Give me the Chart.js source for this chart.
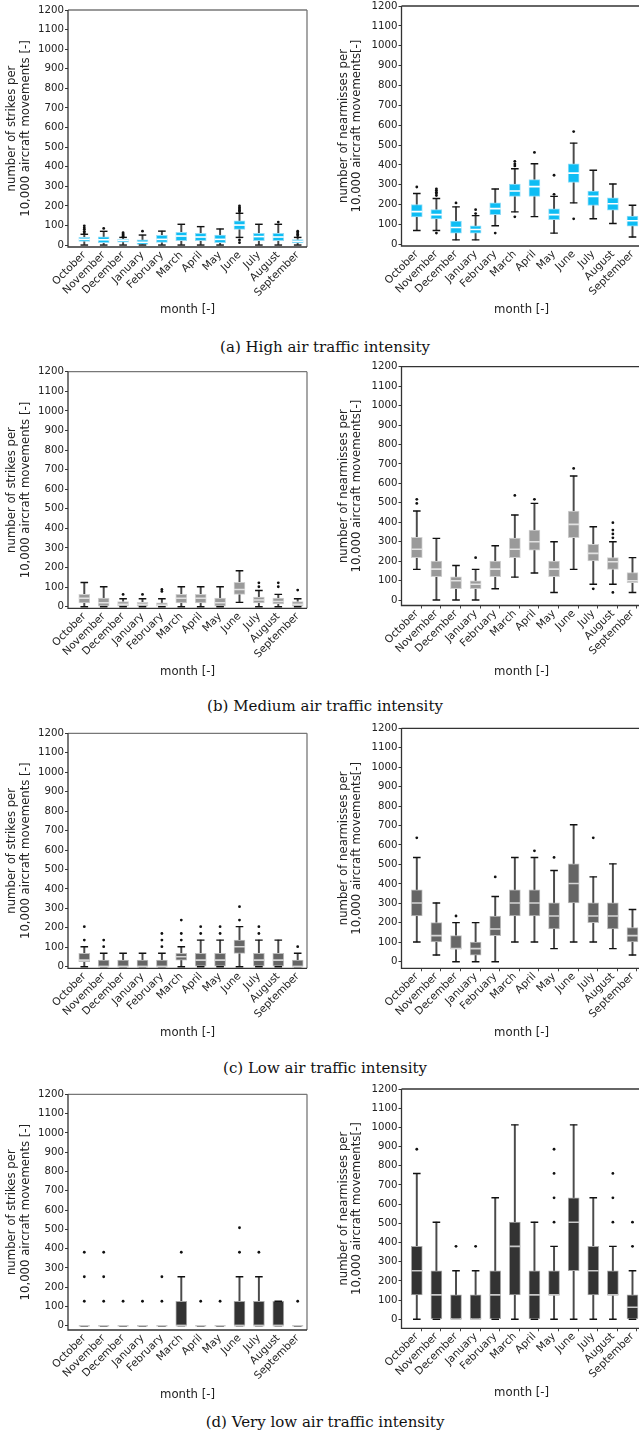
<!DOCTYPE html>
<html>
<head>
<meta charset="utf-8">
<script src="https://cdn.jsdelivr.net/npm/chart.js@4/dist/chart.umd.min.js"></script>
<style>
  html, body { margin: 0; padding: 0; background: #fff; overflow: hidden; }
  #page { position: relative; width: 639px; height: 1440px; overflow: hidden; background: #fff; }
  #page canvas { position: absolute; }
  .caption { position: absolute; left: 0; width: 650px; height: 20px; line-height: 20px; text-align: center;
             font-family: "DejaVu Serif", "Liberation Serif", serif; font-size: 15px; color: #111; }
</style>
</head>
<body>
<div id="page">
  <div class="caption" style="top:337px">(a) High air traffic intensity</div>
  <div class="caption" style="top:696px">(b) Medium air traffic intensity</div>
  <div class="caption" style="top:1058px">(c) Low air traffic intensity</div>
  <div class="caption" style="top:1412px">(d) Very low air traffic intensity</div>
</div>
<script>
// ---- categories and ticks ----
const months = ['October', 'November', 'December', 'January', 'February', 'March',
                'April', 'May', 'June', 'July', 'August', 'September'];
const yTicks = [0, 100, 200, 300, 400, 500, 600, 700, 800, 900, 1000, 1100, 1200];

// ---- (a) high intensity: strikes ----
const strikesHighLo  = [0, 0, 0, 0, 0, 0, 0, 0, 39, 0, 0, 0];
const strikesHighQ1  = [19, 12, 15, 3, 14, 22, 22, 12, 80, 22, 22, 11];
const strikesHighMed = [29, 27, 24, 14, 29, 46, 41, 29, 102, 43, 41, 19];
const strikesHighQ3  = [39, 42, 31, 26, 49, 65, 60, 51, 123, 60, 60, 28];
const strikesHighHi  = [55, 70, 39, 51, 71, 106, 94, 82, 162, 106, 106, 39];
const strikesHighOut = [[62, 70, 80, 88, 98], [85], [45, 51, 57, 63], [71], [], [], [], [],
                        [12, 26, 170, 178, 185, 192, 200], [], [117], [47, 55, 63, 71]];

// ---- (a) high intensity: near misses ----
const nearHighLo  = [70, 70, 23, 23, 94, 164, 140, 57, 209, 129, 105, 37];
const nearHighQ1  = [138, 128, 57, 57, 150, 242, 242, 125, 312, 196, 172, 92];
const nearHighMed = [165, 150, 85, 75, 180, 269, 291, 150, 359, 242, 205, 119];
const nearHighQ3  = [201, 175, 118, 94, 209, 304, 326, 179, 406, 269, 234, 142];
const nearHighHi  = [256, 231, 189, 145, 279, 381, 406, 242, 510, 373, 304, 197];
const nearHighOut = [[289], [57, 246, 255, 263, 272, 280], [209], [155, 175], [57],
                     [139, 395, 405, 418], [463], [252, 348], [129, 568], [], [], []];

// ---- (b) medium intensity: strikes ----
const strikesMediumLo  = [0, 0, 0, 0, 0, 0, 0, 0, 22, 0, 0, 0];
const strikesMediumQ1  = [20, 0, 0, 0, 0, 20, 20, 0, 63, 20, 14, 0];
const strikesMediumMed = [43, 20, 12, 12, 8, 43, 43, 20, 88, 34, 27, 12];
const strikesMediumQ3  = [63, 44, 26, 22, 20, 63, 63, 44, 124, 49, 44, 26];
const strikesMediumHi  = [124, 102, 41, 41, 41, 102, 102, 102, 184, 83, 63, 41];
const strikesMediumOut = [[], [], [63], [63], [78, 88], [], [], [], [], [102, 122], [102, 122], [85]];

// ---- (b) medium intensity: near misses ----
const nearMediumLo  = [158, 0, 0, 0, 58, 118, 139, 39, 158, 81, 81, 39];
const nearMediumQ1  = [218, 120, 58, 58, 120, 218, 257, 120, 321, 201, 158, 89];
const nearMediumMed = [261, 159, 99, 81, 159, 261, 300, 159, 389, 240, 197, 99];
const nearMediumQ3  = [322, 201, 120, 99, 201, 319, 360, 201, 458, 286, 218, 141];
const nearMediumHi  = [458, 317, 178, 158, 279, 437, 497, 300, 638, 377, 300, 218];
const nearMediumOut = [[497, 518], [], [], [218], [], [538], [518], [], [677], [58],
                       [39, 320, 340, 360, 398], []];

// ---- (c) low intensity: strikes ----
const strikesLowLo  = [0, 0, 0, 0, 0, 0, 0, 0, 0, 0, 0, 0];
const strikesLowQ1  = [26, 0, 0, 0, 0, 34, 0, 0, 69, 0, 0, 0];
const strikesLowMed = [34, 0, 0, 0, 0, 51, 34, 34, 103, 34, 34, 0];
const strikesLowQ3  = [69, 34, 34, 34, 34, 69, 69, 69, 137, 69, 69, 34];
const strikesLowHi  = [103, 69, 69, 69, 69, 103, 137, 137, 206, 137, 137, 69];
const strikesLowOut = [[137, 206], [103, 137], [], [], [103, 137, 171], [137, 171, 240],
                       [171, 206], [171, 206], [240, 309], [171, 206], [], [103]];

// ---- (c) low intensity: near misses ----
const nearLowLo  = [101, 34, 0, 0, 0, 101, 101, 67, 101, 101, 67, 34];
const nearLowQ1  = [235, 101, 67, 34, 134, 235, 235, 168, 302, 201, 168, 101];
const nearLowMed = [302, 134, 67, 67, 168, 302, 302, 235, 402, 235, 235, 134];
const nearLowQ3  = [369, 201, 134, 101, 235, 369, 369, 302, 503, 302, 302, 176];
const nearLowHi  = [536, 302, 201, 201, 335, 536, 536, 469, 704, 436, 503, 268];
const nearLowOut = [[637], [], [235], [], [436], [], [570], [536], [], [637], [], []];

// ---- (d) very low intensity: strikes ----
const strikesVeryLowLo  = [0, 0, 0, 0, 0, 0, 0, 0, 0, 0, 0, 0];
const strikesVeryLowQ1  = [0, 0, 0, 0, 0, 0, 0, 0, 0, 0, 0, 0];
const strikesVeryLowMed = [0, 0, 0, 0, 0, 0, 0, 0, 0, 0, 0, 0];
const strikesVeryLowQ3  = [0, 0, 0, 0, 0, 127, 0, 0, 127, 127, 127, 0];
const strikesVeryLowHi  = [0, 0, 0, 0, 0, 254, 0, 0, 254, 254, 127, 0];
const strikesVeryLowOut = [[127, 254, 381], [127, 254, 381], [127], [127], [127, 254], [381],
                           [127], [127], [381, 508], [381], [], [127]];

// ---- (d) very low intensity: near misses ----
const nearVeryLowLo  = [0, 0, 0, 0, 0, 0, 0, 0, 0, 0, 0, 0];
const nearVeryLowQ1  = [127, 0, 0, 0, 0, 127, 0, 127, 253, 127, 127, 0];
const nearVeryLowMed = [253, 127, 0, 0, 127, 380, 127, 127, 506, 253, 127, 63];
const nearVeryLowQ3  = [380, 253, 127, 127, 253, 506, 253, 253, 633, 380, 253, 127];
const nearVeryLowHi  = [760, 506, 253, 253, 633, 1013, 506, 380, 1013, 633, 380, 253];
const nearVeryLowOut = [[886], [], [380], [380], [], [], [], [506, 633, 760, 886], [], [], [506, 633, 760], [380, 506]];

// ---- text ----
const strikesTitle = ['number of strikes per', '10,000 aircraft movements [-]'];
const nearTitle = ['number of nearmisses per', '10,000 aircraft movements[-]'];
const xTitle = 'month [-]';

// ---- palettes per intensity ----
const styleHigh    = { fill: '#0dbdf4', edge: '#93ddf7', median: '#ffffff' };
const styleMedium  = { fill: '#9a9a9a', edge: '#d0d0d0', median: '#e2e2e2' };
const styleLow     = { fill: '#666666', edge: '#bdbdbd', median: '#d6d6d6' };
const styleVeryLow = { fill: '#333333', edge: '#a8a8a8', median: '#c8c8c8' };

const FONT = "'DejaVu Sans', sans-serif";
Chart.defaults.font.family = FONT;
Chart.defaults.color = '#222';

// draws the four spines around the plotting area
const framePlugin = {
  id: 'frame',
  afterDatasetsDraw(chart, args, opts) {
    const { ctx, chartArea: a } = chart;
    ctx.save();
    ctx.lineWidth = 1.3;
    ctx.strokeStyle = opts.far || '#777';
    ctx.beginPath();
    ctx.moveTo(a.right, a.top); ctx.lineTo(a.right, a.bottom);
    ctx.stroke();
    ctx.strokeStyle = opts.top || '#777';
    ctx.beginPath();
    ctx.moveTo(a.left, a.top); ctx.lineTo(a.right, a.top);
    ctx.stroke();
    ctx.strokeStyle = '#333';
    ctx.beginPath();
    ctx.moveTo(a.left, a.top); ctx.lineTo(a.left, a.bottom); ctx.lineTo(a.right, a.bottom);
    ctx.stroke();
    ctx.restore();
  }
};

function perMonth(values) {
  return values.map((v, i) => ({ x: i + 1, y: v }));
}

function buildPanel(p) {
  const left = p.side === 'left';
  const cx = left ? 0 : 330;
  const cw = left ? 320 : 330;
  const plotL = left ? 68 : 401.5;
  const plotR = left ? 307 : 641.7;
  const xMin = left ? 0.16 : 0.22;
  const xMax = left ? 12.48 : 12.47;
  const cy = Math.floor(p.plotTop - 16);
  const ch = Math.ceil(p.titleY + 8.5 - cy);
  const titleLine = 13.3;

  const canvas = document.createElement('canvas');
  canvas.width = cw; canvas.height = ch;
  canvas.style.left = cx + 'px'; canvas.style.top = cy + 'px';
  canvas.style.width = cw + 'px'; canvas.style.height = ch + 'px';
  document.getElementById('page').appendChild(canvas);

  const boxes = months.map((m, i) => ({ x: i + 1, y: [p.q1[i], p.q3[i]] }));
  const whiskers = months.map((m, i) => ({ x: i + 1, y: [p.lo[i], p.hi[i]] }));
  const caps = perMonth(p.lo).concat(perMonth(p.hi));
  const outliers = [];
  p.out.forEach((list, i) => list.forEach(v => outliers.push({ x: i + 1, y: v })));

  const scales = {
    x: {
      type: 'linear', min: xMin, max: xMax, offset: false, weight: 1,
      afterBuildTicks: s => { s.ticks = months.map((m, i) => ({ value: i + 1 })); },
      afterFit: s => { s.height = cy + ch - p.plotBottom; },
      grid: { display: true, drawOnChartArea: false, drawTicks: false },
      border: { display: false },
      ticks: { autoSkip: false, minRotation: 45, maxRotation: 45, padding: 2,
               font: { size: 10.6 }, color: '#222',
               callback: v => months[v - 1] },
      title: { display: true, text: xTitle, font: { size: 11.7, lineHeight: titleLine / 11.7 },
               color: '#222', padding: { top: 0, bottom: (cy + ch) - titleLine / 2 - p.titleY } }
    },
    y: {
      type: 'linear', min: p.yMin, max: 1200,
      afterBuildTicks: s => { s.ticks = yTicks.map(v => ({ value: v })); },
      afterFit: s => { s.width = plotL - cx; },
      grid: { drawOnChartArea: false, drawTicks: true, tickLength: 3, color: '#333', lineWidth: 1 },
      border: { display: false },
      ticks: { padding: 1, font: { size: 10.2 }, color: '#222', callback: v => String(v) },
      title: { display: true, text: p.title, font: { size: 11.7, lineHeight: titleLine / 11.7 },
               color: '#222', padding: { top: p.line1X - cx - titleLine / 2, bottom: 0 } }
    }
  };
  if (p.marks) {
    // short tick marks just under the bottom spine, between the month labels
    scales.xMarks = {
      type: 'linear', position: 'bottom', axis: 'x', min: xMin, max: xMax, offset: false, weight: 0,
      afterBuildTicks: s => { s.ticks = months.map((m, i) => ({ value: i + 1.23 })); },
      afterFit: s => { s.height = 0; },
      grid: { display: true, drawOnChartArea: false, drawTicks: true, tickLength: 3, color: '#444', lineWidth: 1 },
      border: { display: false },
      ticks: { display: false }
    };
  }

  new Chart(canvas, {
    type: 'scatter',
    data: {
      datasets: [
        { type: 'bar', data: whiskers, order: 5, grouped: false, barThickness: 1.3,
          backgroundColor: '#4a4a4a', borderWidth: 0 },
        { type: 'bar', data: boxes, order: 4, grouped: false, barThickness: 11,
          backgroundColor: p.style.fill, borderColor: p.style.edge, borderWidth: 1, borderSkipped: false },
        { data: caps, order: 3, pointStyle: 'line', pointRadius: 3.8,
          pointBorderColor: '#111', pointBorderWidth: 1.4, pointBackgroundColor: '#111' },
        { data: perMonth(p.med), order: 2, pointStyle: 'line', pointRadius: 5.5,
          pointBorderColor: p.style.median, pointBorderWidth: 1.6, pointBackgroundColor: p.style.median },
        { data: outliers, order: 1, pointStyle: 'circle', pointRadius: 1.4,
          pointBackgroundColor: '#111', pointBorderWidth: 0 }
      ]
    },
    options: {
      responsive: false,
      animation: false,
      devicePixelRatio: 1,
      events: [],
      layout: { padding: { top: p.plotTop - cy, right: cx + cw - plotR, left: 0, bottom: 0 } },
      plugins: {
        legend: { display: false },
        tooltip: { enabled: false },
        frame: { top: left ? '#777' : '#333', far: '#777' }
      },
      scales
    },
    plugins: [framePlugin]
  });
}

const panels = [
  { side: 'left', plotTop: 10, plotBottom: 247, yMin: -10, titleY: 310, line1X: 12.3, title: strikesTitle, style: styleHigh,
    lo: strikesHighLo, q1: strikesHighQ1, med: strikesHighMed, q3: strikesHighQ3, hi: strikesHighHi, out: strikesHighOut },
  { side: 'right', plotTop: 6, plotBottom: 246, yMin: -8, titleY: 310, line1X: 343.7, title: nearTitle, style: styleHigh,
    lo: nearHighLo, q1: nearHighQ1, med: nearHighMed, q3: nearHighQ3, hi: nearHighHi, out: nearHighOut },
  { side: 'left', plotTop: 371.7, plotBottom: 608.3, yMin: -8, titleY: 672, line1X: 12.3, title: strikesTitle, style: styleMedium,
    lo: strikesMediumLo, q1: strikesMediumQ1, med: strikesMediumMed, q3: strikesMediumQ3, hi: strikesMediumHi, out: strikesMediumOut },
  { side: 'right', plotTop: 366.7, plotBottom: 605.5, yMin: -28, titleY: 672, line1X: 343.7, title: nearTitle, style: styleMedium, marks: true,
    lo: nearMediumLo, q1: nearMediumQ1, med: nearMediumMed, q3: nearMediumQ3, hi: nearMediumHi, out: nearMediumOut },
  { side: 'left', plotTop: 733.3, plotBottom: 968.3, yMin: -8, titleY: 1033, line1X: 12.3, title: strikesTitle, style: styleLow,
    lo: strikesLowLo, q1: strikesLowQ1, med: strikesLowMed, q3: strikesLowQ3, hi: strikesLowHi, out: strikesLowOut },
  { side: 'right', plotTop: 728.3, plotBottom: 968.3, yMin: -34, titleY: 1033, line1X: 343.7, title: nearTitle, style: styleLow, marks: true,
    lo: nearLowLo, q1: nearLowQ1, med: nearLowMed, q3: nearLowQ3, hi: nearLowHi, out: nearLowOut },
  { side: 'left', plotTop: 1094.3, plotBottom: 1330, yMin: -22, titleY: 1395, line1X: 12.3, title: strikesTitle, style: styleVeryLow,
    lo: strikesVeryLowLo, q1: strikesVeryLowQ1, med: strikesVeryLowMed, q3: strikesVeryLowQ3, hi: strikesVeryLowHi, out: strikesVeryLowOut },
  { side: 'right', plotTop: 1089, plotBottom: 1328.3, yMin: -47, titleY: 1393, line1X: 343.7, title: nearTitle, style: styleVeryLow, marks: true,
    lo: nearVeryLowLo, q1: nearVeryLowQ1, med: nearVeryLowMed, q3: nearVeryLowQ3, hi: nearVeryLowHi, out: nearVeryLowOut }
];

panels.forEach(buildPanel);
</script>
</body>
</html>
